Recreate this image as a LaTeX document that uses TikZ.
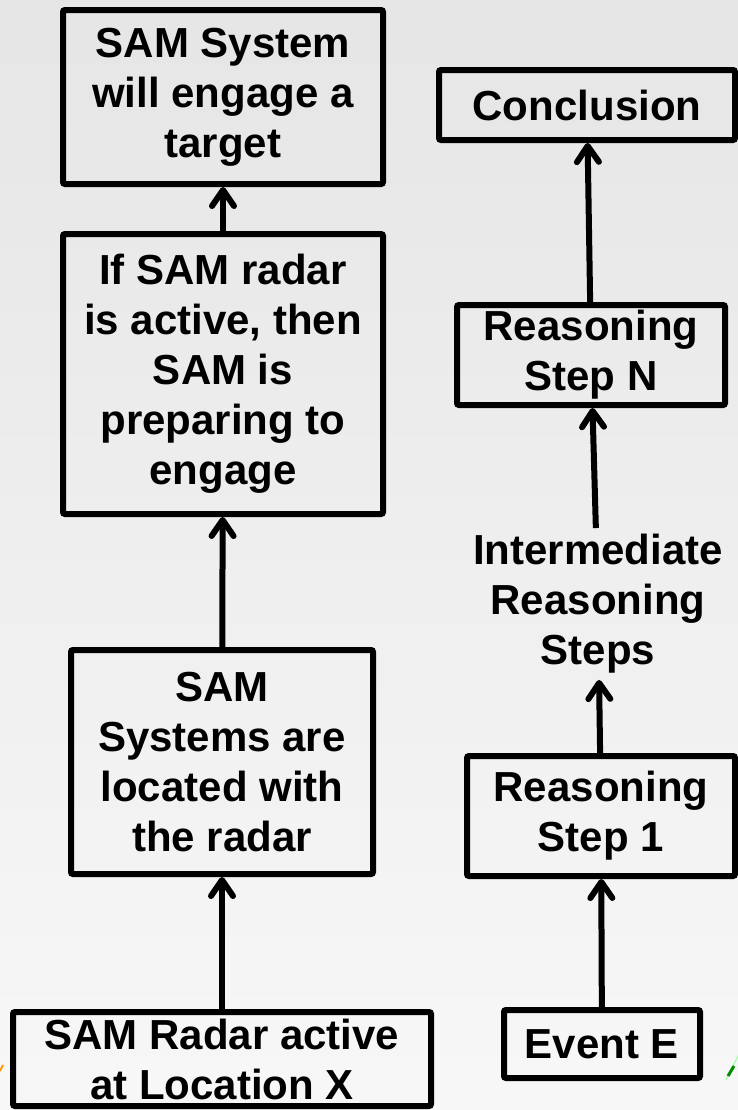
\documentclass[tikz,border=0pt]{standalone}
\usepackage{fontspec}
\setmainfont{Liberation Sans}
\usetikzlibrary{arrows.meta}

\tikzset{
  stepbox/.style={draw=black, line width=3pt, rounded corners=1pt, align=center,
    inner sep=0pt, font=\bfseries\fontsize{21}{25}\selectfont},
  plaintext/.style={align=center, inner sep=3pt, font=\bfseries\fontsize{21}{25}\selectfont},
  upline/.style={line width=3pt, -{Straight Barb[round,length=8pt,width=11pt]}}
}

\begin{document}
\begin{tikzpicture}[x=0.5pt,y=-0.5pt]
  \shade[top color=black!10, bottom color=black!3] (0,0) rectangle (738,1110);
  \useasboundingbox (0,0) rectangle (738,1110);

  % SAM example
  \node[stepbox, minimum width=160pt, minimum height=87pt] (engage) at (223,97) {SAM System\\will engage a\\target};
  \node[stepbox, minimum width=160pt, minimum height=140pt] (ifradar) at (223,374) {If SAM radar\\is active, then\\SAM is\\preparing to\\engage};
  \node[stepbox, minimum width=151pt, minimum height=112pt] (located) at (222,762) {SAM\\Systems are\\located with\\the radar};
  \node[stepbox, minimum width=209pt, minimum height=47pt] (radar) at (222,1059) {SAM Radar active\\at Location X};

  \draw[upline] (radar) -- (located);
  \draw[upline] (located) -- (ifradar);
  \draw[upline] (ifradar) -- (engage);

  % generic chain
  \node[stepbox, minimum width=148pt, minimum height=35pt] (concl) at (587,105) {Conclusion};
  \node[stepbox, minimum width=134pt, minimum height=50pt] (stepn) at (591,355) {Reasoning\\Step N};
  \node[plaintext] (inter) at (598,604) {Intermediate\\Reasoning\\Steps};
  \node[stepbox, minimum width=134pt, minimum height=60pt] (stepone) at (601,816) {Reasoning\\Step 1};
  \node[stepbox, minimum width=98pt, minimum height=34pt] (event) at (602,1044) {Event E};

  \draw[upline] (event) -- (stepone);
  \draw[upline] (stepone) -- (inter);
  \draw[upline] (inter) -- (stepn);
  \draw[upline] (stepn) -- (concl);

  % clipped marks at the lower corners
  \draw[orange!80!yellow, line width=1pt] (0,1071) -- (3,1065);
  \draw[green!35, line width=0.6pt] (726,1080) -- (738,1056);
  \draw[green!55!black, line width=1.5pt] (728,1076) -- (734,1066);
\end{tikzpicture}
\end{document}
